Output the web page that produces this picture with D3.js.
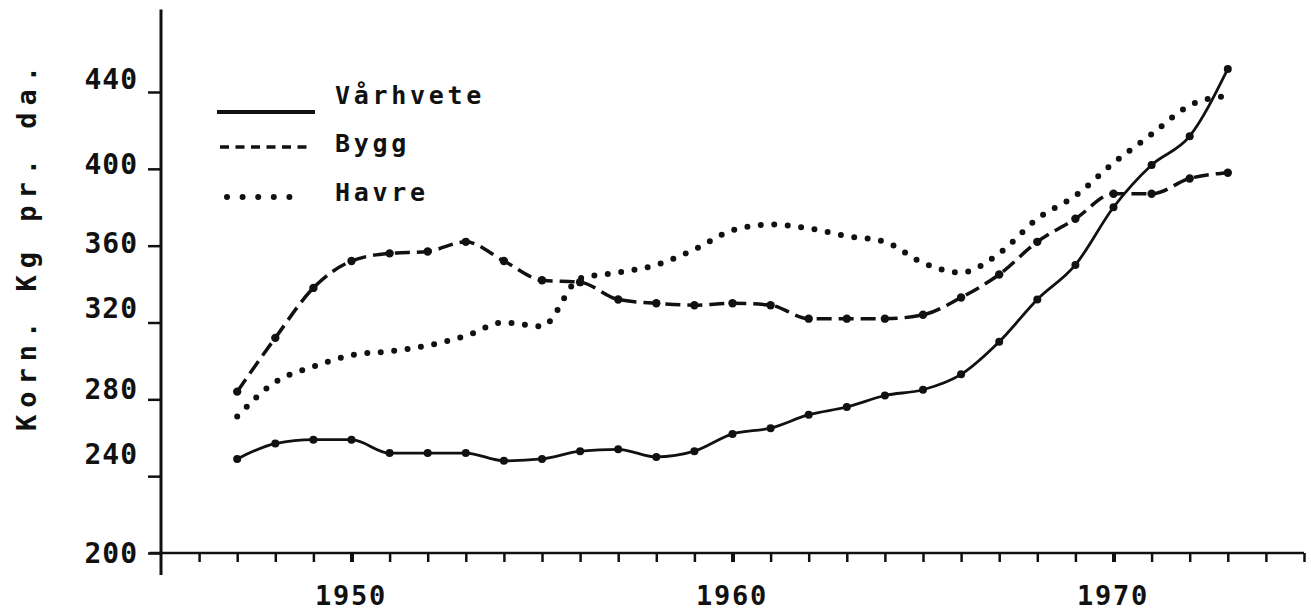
<!DOCTYPE html>
<html>
<head>
<meta charset="utf-8">
<script src="https://cdn.jsdelivr.net/npm/d3@7/dist/d3.min.js"></script>
<style>
  body { margin: 0; background: #fff; }
  text { font-family: "DejaVu Sans Mono", "Liberation Mono", monospace; fill: #111; }
</style>
</head>
<body>
<script>
// Years on the x axis (data points)
var years = [1947, 1948, 1949, 1950, 1951, 1952, 1953, 1954, 1955, 1956,
             1957, 1958, 1959, 1960, 1961, 1962, 1963, 1964, 1965, 1966,
             1967, 1968, 1969, 1970, 1971, 1972, 1973];

// Korn, kg pr. dekar
var varhvete = [249, 257, 259, 259, 252, 252, 252, 248, 249, 253,
                254, 250, 253, 262, 265, 272, 276, 282, 285, 293,
                310, 332, 350, 380, 402, 417, 452];
var bygg = [284, 312, 338, 352, 356, 357, 362, 352, 342, 341,
            332, 330, 329, 330, 329, 322, 322, 322, 324, 333,
            345, 362, 374, 387, 387, 395, 398];
var havre = [271, 289, 297, 303, 305, 308, 313, 320, 318, 343,
             346, 350, 358, 368, 371, 369, 365, 362, 351, 346,
             356, 374, 386, 403, 418, 433, 438];

var seriesNames = ["Vårhvete", "Bygg", "Havre"];
var yTicks = [200, 240, 280, 320, 360, 400, 440];
var xTickYears = [1946, 1947, 1948, 1949, 1950, 1951, 1952, 1953, 1954, 1955,
                  1956, 1957, 1958, 1959, 1960, 1961, 1962, 1963, 1964, 1965,
                  1966, 1967, 1968, 1969, 1970, 1971, 1972, 1973, 1974, 1975];
var xTickLabels = [1950, 1960, 1970];
var yTitle = "Korn. Kg pr. da.";

var WIDTH = 1311, HEIGHT = 614;

var xScale = d3.scaleLinear().domain([1945, 1975]).range([161, 1304]);
var yScale = d3.scaleLinear().domain([200, 440]).range([553, 92]);

var svg = d3.select("body").append("svg")
    .attr("width", WIDTH)
    .attr("height", HEIGHT);

// typewriter labels are not quite level with their ticks
var labelNudge = {200: -1, 240: -23, 280: -11, 320: -15, 360: -3, 400: -5, 440: -14};

// Y axis
var yAxis = d3.axisLeft(yScale).tickValues(yTicks).tickSize(13).tickPadding(10);
var gy = svg.append("g")
    .attr("transform", "translate(" + xScale(1945) + ",0)")
    .call(yAxis);
gy.select(".domain").remove();
gy.selectAll(".tick line").attr("stroke", "#111").attr("stroke-width", 2.5);
gy.selectAll(".tick text")
    .attr("font-size", 28)
    .attr("font-weight", "bold")
    .attr("letter-spacing", 1)
    .attr("dy", function(d) { return (labelNudge[d] + 10) + "px"; })
    .style("font-family", "'DejaVu Sans Mono', monospace");
svg.append("line")
    .attr("x1", xScale(1945)).attr("x2", xScale(1945))
    .attr("y1", yScale(483)).attr("y2", yScale(188.5))
    .attr("stroke", "#111").attr("stroke-width", 3);

// X axis
var xAxis = d3.axisBottom(xScale).tickValues(xTickYears).tickSize(9)
    .tickFormat(function(d) { return xTickLabels.indexOf(d) >= 0 ? d : ""; });
var gx = svg.append("g")
    .attr("transform", "translate(0," + yScale(200) + ")")
    .call(xAxis);
gx.select(".domain").remove();
gx.selectAll(".tick line")
    .attr("stroke", "#111")
    .attr("stroke-width", function(d) { return xTickLabels.indexOf(d) >= 0 ? 4 : 2.5; });
gx.selectAll(".tick text")
    .attr("font-size", 27)
    .attr("font-weight", "bold")
    .attr("letter-spacing", 1.8)
    .attr("y", 52)
    .attr("dy", 0)
    .attr("dx", -1)
    .style("font-family", "'DejaVu Sans Mono', monospace");
svg.append("line")
    .attr("x1", xScale(1944.7)).attr("x2", xScale(1975))
    .attr("y1", yScale(200)).attr("y2", yScale(200))
    .attr("stroke", "#111").attr("stroke-width", 2.5);

// Y axis title
svg.append("text")
    .attr("transform", "translate(36," + 245 + ") rotate(-90)")
    .attr("text-anchor", "middle")
    .attr("font-size", 27)
    .attr("font-weight", "bold")
    .attr("letter-spacing", 7)
    .text(yTitle);

// Lines
var lineGen = d3.line()
    .x(function(d) { return xScale(d[0]); })
    .y(function(d) { return yScale(d[1]); })
    .curve(d3.curveMonotoneX);

function pairs(values) {
    return years.map(function(y, i) { return [y, values[i]]; });
}

// Havre - dotted
svg.append("path")
    .attr("d", lineGen(pairs(havre)))
    .attr("fill", "none")
    .attr("stroke", "#111")
    .attr("stroke-width", 6)
    .attr("stroke-linecap", "round")
    .attr("stroke-dasharray", "0 13.5");

// Bygg - dashed with points
svg.append("path")
    .attr("d", lineGen(pairs(bygg)))
    .attr("fill", "none")
    .attr("stroke", "#111")
    .attr("stroke-width", 3.5)
    .attr("stroke-dasharray", "15 7");
svg.append("g").selectAll("circle")
    .data(pairs(bygg))
    .enter().append("circle")
    .attr("cx", function(d) { return xScale(d[0]); })
    .attr("cy", function(d) { return yScale(d[1]); })
    .attr("r", 4.2)
    .attr("fill", "#111");

// Vårhvete - solid with points
svg.append("path")
    .attr("d", lineGen(pairs(varhvete)))
    .attr("fill", "none")
    .attr("stroke", "#111")
    .attr("stroke-width", 2.8);
svg.append("g").selectAll("circle")
    .data(pairs(varhvete))
    .enter().append("circle")
    .attr("cx", function(d) { return xScale(d[0]); })
    .attr("cy", function(d) { return yScale(d[1]); })
    .attr("r", 4)
    .attr("fill", "#111");

// Legend
var legendStyles = [
    {y: 112, width: 4, dash: null, cap: "butt", x1: 217, x2: 315, ty: 104},
    {y: 147, width: 3.5, dash: "9 6.5", cap: "butt", x1: 220, x2: 308, ty: 152},
    {y: 197, width: 6, dash: "0 15.6", cap: "round", x1: 227, x2: 305, ty: 201}
];
var legend = svg.append("g").attr("class", "legend");
seriesNames.forEach(function(name, i) {
    var s = legendStyles[i];
    legend.append("line")
        .attr("x1", s.x1).attr("x2", s.x2)
        .attr("y1", s.y).attr("y2", s.y)
        .attr("stroke", "#111")
        .attr("stroke-width", s.width)
        .attr("stroke-linecap", s.cap)
        .attr("stroke-dasharray", s.dash);
    legend.append("text")
        .attr("x", 335)
        .attr("y", s.ty)
        .attr("font-size", 25)
        .attr("font-weight", "bold")
        .attr("letter-spacing", 3.7)
        .text(name);
});
</script>
</body>
</html>
